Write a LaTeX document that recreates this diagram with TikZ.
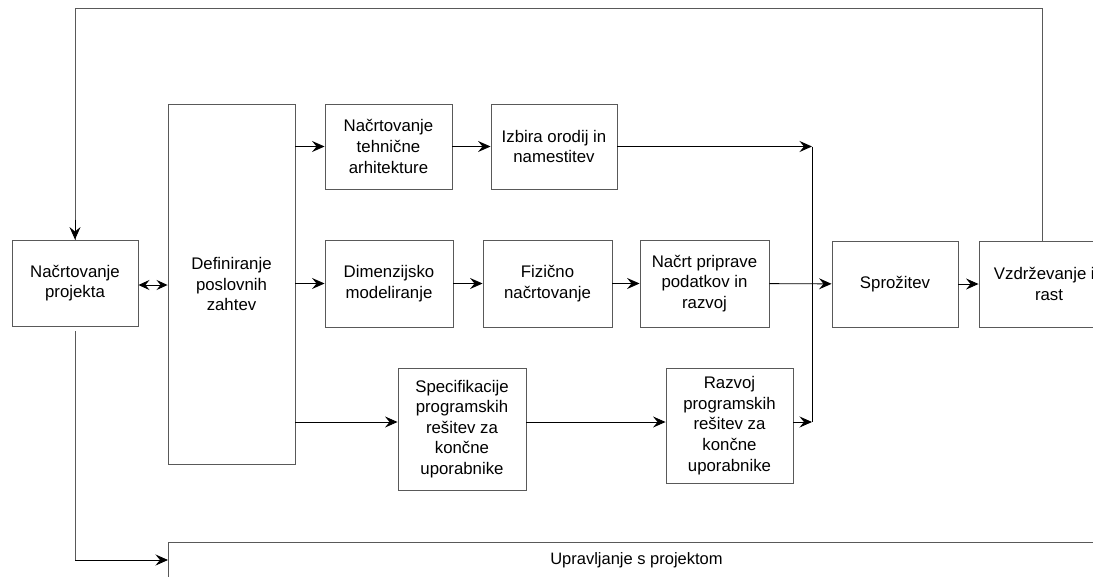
\documentclass[tikz,border=0pt]{standalone}
\usepackage{fontspec}
\setmainfont{Liberation Sans}
\usetikzlibrary{arrows.meta}
\begin{document}
\begin{tikzpicture}[x=1pt,y=-1pt,
  blk/.style={draw=black!65, line width=0.9pt, align=center, inner sep=0pt,
    font=\fontsize{16.8}{20.6}\selectfont},
  flow/.style={-{Stealth[length=12.5pt,width=11pt,inset=4.5pt]}, line width=0.9pt, black},
  both/.style={{Stealth[length=11pt,width=10pt,inset=4pt]}-{Stealth[length=11pt,width=10pt,inset=4pt]}, line width=0.9pt, black},
  loop/.style={line width=0.9pt, black!65}]
\useasboundingbox (0,0) rectangle (1093,576);
\clip (0,0) rectangle (1093,576);

% process blocks
\node[blk, minimum width=126pt, minimum height=86pt] (proj) at (75,283) {Načrtovanje\\projekta};
\node[blk, minimum width=127pt, minimum height=360pt] (def) at (231.5,284) {Definiranje\\poslovnih\\zahtev};
\node[blk, minimum width=127pt, minimum height=85pt] (teh) at (388.5,146.5) {Načrtovanje\\tehnične\\arhitekture};
\node[blk, minimum width=126pt, minimum height=85pt] (izb) at (554,146.5) {Izbira orodij in\\namestitev};
\node[blk, minimum width=128pt, minimum height=87pt] (dim) at (389,283.5) {Dimenzijsko\\modeliranje};
\node[blk, minimum width=129pt, minimum height=87pt] (fiz) at (547.5,283.5) {Fizično\\načrtovanje};
\node[blk, minimum width=129pt, minimum height=87pt] (nac) at (704.5,283.5) {Načrt priprave\\podatkov in\\razvoj};
\node[blk, minimum width=126pt, minimum height=86pt] (spr) at (895,284) {Sprožitev};
\node[blk, minimum width=140pt, minimum height=86pt] (vzd) at (1049,284) {Vzdrževanje in\hspace{6pt}\\rast};
\node[blk, minimum width=128pt, minimum height=122pt] (spec) at (462,429) {Specifikacije\\programskih\\rešitev za\\končne\\uporabnike};
\node[blk, minimum width=127pt, minimum height=115pt] (raz) at (729.5,425.5) {Razvoj\\programskih\\rešitev za\\končne\\uporabnike};
\node[blk, font=\fontsize{16.5}{20.5}\selectfont, anchor=north west, minimum width=936pt,
  inner ysep=8pt, text height=14pt, text depth=30pt] (upr) at (168,542) {Upravljanje s projektom};

% junction points
\coordinate (jtop) at (812,146.5);
\coordinate (jbot) at (812,422);
\coordinate (row3) at (0,422);
\coordinate (loopR) at (1042,8);
\coordinate (uprIn) at (0,560);

% feedback from maintenance back to project planning
\draw[loop] (vzd.north -| loopR) -- (loopR) -| (proj.north);
\draw[flow] ([yshift=20pt]proj.north) -- (proj.north);

% project planning to project management
\draw[loop] ([yshift=-5pt]proj.south) -- (proj.south |- uprIn);
\draw[flow] (proj.south |- uprIn) -- (upr.west |- uprIn);

\draw[both] (proj.east |- 0,285) -- (def.west |- 0,285);

% upper track
\draw[flow] (def.east |- teh.west) -- (teh.west);
\draw[flow] (teh) -- (izb);
\draw[flow] (izb.east) -- (jtop);

% middle track
\draw[flow] (def.east |- dim.west) -- (dim.west);
\draw[flow] (dim) -- (fiz);
\draw[flow] (fiz) -- (nac);
\draw[flow] (nac) -- (spr);
\draw[flow] (spr) -- (vzd);

% lower track
\draw[flow] (def.east |- row3) -- (spec.west |- row3);
\draw[flow] (spec.east |- row3) -- (raz.west |- row3);
\draw[flow] (raz.east |- row3) -- (jbot);

% merge line
\draw[line width=0.9pt, black] (jtop) -- (jbot);
\end{tikzpicture}
\end{document}
